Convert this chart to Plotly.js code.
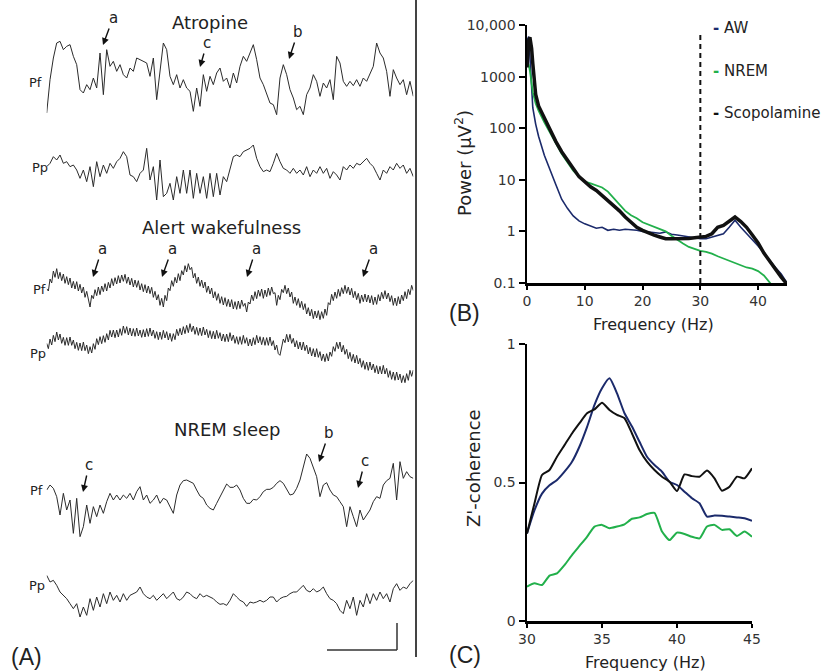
<!DOCTYPE html>
<html><head><meta charset="utf-8">
<script src="https://cdn.plot.ly/plotly-3.0.1.min.js"></script>
<style>html,body{margin:0;padding:0;background:#fff}#chart{width:827px;height:672px}</style>
</head><body><div id="chart"></div>
<script>
// ---------- Panel A: EEG traces (amplitude, arbitrary units) ----------
const atropinePf = [-105,-5,60,105,110,85,95,100,65,40, -35,-45,-20,-35,0,-30,75,-50,85,35, 50,20,40,10,0,30,20,60,55,50, 45,5,60,-65,25,105,85,5,-20,10, -30,-5,-30,-40,-100,-30,-85,10,-40,5, -20,15,30,-10,0,-30,15,-15,35,65, 50,75,100,55,0,-20,-45,-75,-80,-110, 0,40,10,-35,-60,-95,-85,-110,-50,-30, 10,-10,-55,-15,-30,-5,-65,65,45,-10, -25,-10,-23,-5,-25,0,-10,10,35,105, 75,60,20,-55,25,0,-20,-5,-50,-10, -55];
const atropinePp = [10,20,40,30,45,20,25,10,15,0, -25,0,-35,10,-50,25,-20,15,-10,20, 5,25,35,55,40,-15,-20,-35,-10,0, 65,-30,10,-90,30,-80,-70,-40,-90,-20, -70,0,-70,0,-85,-10,-70,-20,-85,-10, -80,-10,-75,-20,-35,5,40,45,40,55, 60,65,75,35,10,-5,0,-5,20,50, 25,5,0,-10,5,-10,0,-15,10,-20, 0,-10,10,-10,5,-25,-5,-15,-30,10, 0,15,5,20,15,25,35,20,10,-10, -30,0,-10,10,0,20,5,15,-10,5, -20];
const awakePf = [10,3,39,27,63,44,70,40,59,34, 54,26,46,22,42,12,32,9,31,3, 23,-3,15,-16,2,-25,-45,-10,-20,7, -11,15,-8,18,1,25,3,29,12,40, 19,43,24,49,27,51,32,53,26,45, 21,41,15,36,14,34,6,25,1,22, -3,18,-5,14,-16,2,-24,-8,-40,-19, -45,-10,-26,12,4,34,17,44,27,55, 34,64,51,79,60,85,67,74,42,56, 26,45,17,36,12,30,-1,18,-6,12, -18,1,-25,-5,-34,-14,-39,-17,-43,-22, -45,-23,-51,-29,-52,-27,-50,-24,-43,-34, -60,-30,-36,-9,-26,1,-20,6,-13,9, -19,6,-14,12,-10,15,-5,-2,-40,-10, -23,8,-2,20,-5,12,-15,0,-34,-15, -40,-20,-47,-28,-53,-35,-66,-47,-72,-52, -80,-57,-78,-56,-83,-59,-79,-51,-70,-32, -38,-7,-26,0,-19,8,-13,13,-5,20, -4,15,-9,11,-17,2,-23,-4,-34,-9, -29,-6,-30,-9,-33,-11,-38,-15,-37,-8, -27,-1,-20,4,-21,-3,-29,-11,-40,-18, -41,-14,-36,-9,-26,1,-20,8,-8,20, 4];
const awakePp = [11,-5,24,6,35,16,45,21,39,11, 29,5,28,5,30,5,21,-5,14,-10, 12,-11,15,-11,6,-20,1,-18,10,-7, 25,7,31,10,34,14,40,21,50,30, 51,28,51,30,55,35,63,41,61,36, 57,33,55,32,57,33,51,29,52,30, 55,32,57,33,51,26,46,22,45,23, 50,27,46,21,41,17,40,22,53,34, 56,36,61,40,65,43,70,46,63,38, 59,35,57,34,60,36,53,28,49,25, 47,24,50,26,43,18,39,16,39,16, 43,19,36,11,31,8,31,8,35,11, 28,3,24,3,28,7,35,12,31,7, 29,5,28,5,30,4,19,-9,6,-20, -25,6,24,13,38,15,38,11,26,0, 19,-6,15,-9,15,-11,6,-21,-1,-27, -5,-30,-5,-31,-14,-41,-21,-44,-20,-42, -15,-28,1,-13,14,-5,15,-15,5,-22, -7,-35,-16,-43,-22,-48,-25,-51,-34,-61, -41,-67,-45,-70,-45,-69,-51,-77,-56,-81, -58,-81,-55,-81,-64,-91,-71,-97,-75,-100, -75,-99,-81,-107,-86,-107,-80,-100,-70,-88, -69];
const nremPf = [30,45,35,10,-45,20,-30,0,-100,5, -110,-80,-15,-70,-20,-50,-15,-40,-5,20, 0,15,0,15,5,20,0,25,40,0, 15,-10,0,15,-10,5,0,-20,-40,15, 45,58,60,55,50,30,12,5,-15,-25, -30,-10,10,30,48,38,38,45,30,5, -10,-10,2,0,10,25,32,32,38,50, 58,50,32,15,18,35,60,100,138,125, 100,70,10,45,52,30,15,10,-5,-20, -80,-20,-50,-80,-30,-60,-45,-30,-5,10, 5,45,58,65,110,0,115,65,85,70, 65];
const nremPp = [65,45,50,35,15,5,-5,-20,-35,-20, -60,-30,-55,-5,-40,0,-30,10,-20,15, -10,5,-15,10,-10,5,10,15,30,10, 0,-5,5,-10,0,10,-5,5,15,-5, -10,0,15,10,0,-5,10,0,5,0, -5,-15,-22,-20,-25,-10,10,0,-10,-15, -28,-15,-18,-15,-10,-15,-10,0,0,-15, -5,0,2,10,15,15,25,35,20,15, 25,15,20,30,10,-5,-10,-20,-40,-50, -10,-35,0,-55,-10,-30,10,-20,10,-10, 15,-5,10,-15,25,40,20,30,25,40, 50];
const traceNamesA = ['Atropine Pf','Atropine Pp','Alert wakefulness Pf','Alert wakefulness Pp','NREM sleep Pf','NREM sleep Pp'];
const channelLabels = ['Pf','Pp','Pf','Pp','Pf','Pp'];
const stateTitles = ['Atropine','Alert wakefulness','NREM sleep'];

// ---------- Panel B: power spectra ----------
const freqB = [0,0.3,0.5,0.8,1,1.5,2,3,4,5,6,7,8,9,10,11,12,13,14,15,16,17,18,19,20,21,22,23,24,25,26,27,28,29,30,31,32,33,34,35,36,37,38,39,40,41,42,43,44,45];
const powerAW = [5000,6000,2500,500,250,120, 70,30,15,8,4.2,2.8,2,1.6,1.4, 1.25,1.15,1.2,1.05,1.1,1.05,1.1,1.08,1.05,1.0, 0.98,0.95,0.92,0.98,0.88,0.85,0.82,0.78,0.76,0.72, 0.72,0.78,0.82,0.9,1.2,1.65,1.2,0.92,0.7,0.52, 0.38,0.27,0.2,0.15,0.1];
const powerNREM = [2000,1700,1300,750,500,300, 220,130,80,50,32,22,15,11.5,9.2, 8.5,7.9,7.1,5.9,4.4,3.2,2.5,2.05,1.8,1.5, 1.35,1.2,1.1,1.0,0.82,0.68,0.58,0.5,0.45,0.42, 0.4,0.37,0.33,0.3,0.27,0.24,0.22,0.2,0.19,0.17, 0.14,0.1,0.075,null,null];
const powerScop = [1500,5000,5800,3500,1800,450, 270,160,91,55,35,24,16.6,11.5,9.2, 7.3,6.2,5,4,3.2,2.5,1.9,1.5,1.2,1.05, 0.93,0.85,0.78,0.72,0.72,0.72,0.73,0.73,0.75,0.78, 0.8,0.9,1.2,1.3,1.6,1.9,1.55,1.2,0.85,0.6, 0.38,0.26,0.18,0.13,0.095];
const powerTickVals = [0.1,1,10,100,1000,10000];
const powerTickText = ['0.1','1','10','100','1000','10,000'];
const legendNames = ['AW','NREM','Scopolamine'];

// ---------- Panel C: Z'-coherence ----------
const freqC = [30,30.5,31,31.5,32,32.5,33,33.5,34,34.5,35,35.5,36,36.5,37,37.5,38,38.5,39,39.5,40,40.5,41,41.5,42,42.5,43,43.5,44,44.5,45];
const cohScop = [0.316,0.425,0.527,0.545,0.593,0.635,0.677,0.714,0.75,0.764,0.788,0.762,0.744,0.732,0.677,0.617,0.575,0.545,0.521,0.503,0.469,0.529,0.523,0.521,0.543,0.515,0.47,0.485,0.521,0.515,0.551];
const cohAW = [0.316,0.4,0.46,0.49,0.509,0.539,0.575,0.63,0.7,0.78,0.84,0.876,0.822,0.75,0.702,0.647,0.593,0.563,0.539,0.503,0.491,0.467,0.443,0.425,0.377,0.381,0.38,0.377,0.374,0.371,0.362];
const cohNREM = [0.124,0.136,0.13,0.164,0.172,0.202,0.238,0.271,0.304,0.341,0.347,0.335,0.341,0.349,0.369,0.374,0.386,0.39,0.323,0.292,0.319,0.314,0.304,0.298,0.341,0.347,0.329,0.331,0.307,0.323,0.304];

// ---------- layout helpers ----------
const W = 827, H = 672;
const PX = x => x / W, PY = y => 1 - y / H;
const domX = (a, b) => [a / W, b / W];
const domY = (t, b) => [1 - b / H, 1 - t / H];
const FONT = 'DejaVu Sans, Verdana, sans-serif';
const NAVY = '#1b2a6b', GREEN = '#22b04b', BLACK = '#111111';

const seriesA = [atropinePf, atropinePp, awakePf, awakePp, nremPf, nremPp];
const stepA = [1, 1, 0.5, 0.5, 1, 1];
const rowCenters = [78, 170, 292, 347, 500, 597];
const labelPos = [[44,82],[50,167],[48,289],[48,353],[45,490],[47,585]];

const data = [];
const layout = {
  width: W, height: H, margin: {l:0, r:0, t:0, b:0},
  paper_bgcolor: '#fff', plot_bgcolor: 'rgba(0,0,0,0)', showlegend: false,
  font: {family: FONT, color: '#222'},
  xaxis: {domain: domX(46.7, 413.3), range: [0, 110], visible: false, anchor: 'y', fixedrange: true},
  annotations: [], shapes: []
};

seriesA.forEach((vals, i) => {
  const yname = i === 0 ? 'y' : 'y' + (i + 1);
  const key = i === 0 ? 'yaxis' : 'yaxis' + (i + 1);
  data.push({type: 'scatter', mode: 'lines', name: traceNamesA[i], y: vals, x0: 0, dx: stepA[i],
    xaxis: 'x', yaxis: yname, line: {color: '#2b2b2b', width: 1}, hoverinfo: 'skip'});
  layout[key] = {domain: domY(rowCenters[i] - 50, rowCenters[i] + 50), range: [-150, 150],
    visible: false, anchor: 'x', fixedrange: true};
  layout.annotations.push({xref: 'paper', yref: 'paper', x: PX(labelPos[i][0]), y: PY(labelPos[i][1]),
    xanchor: 'right', yanchor: 'middle', text: channelLabels[i], showarrow: false,
    font: {family: FONT, size: 13, color: '#222'}});
});

// state titles
[[210, 23], [221, 227], [227, 430]].forEach((p, i) => {
  layout.annotations.push({xref: 'paper', yref: 'paper', x: PX(p[0]), y: PY(p[1]), xanchor: 'center', yanchor: 'middle',
    text: stateTitles[i], showarrow: false, font: {family: FONT, size: 18, color: '#222'}});
});

// letter arrows: [letter, tipX, tipY, letterX, letterY]
const arrowsA = [
  ['a',103,45,113,18], ['c',200,67,207,43], ['b',289,59,298,32],
  ['a',93,277,102,249], ['a',162,277,172,249], ['a',247,277,256,249], ['a',363,277,373,249],
  ['c',83,492,89,465], ['b',319,462,329,433], ['c',358,488,365,461]
];
arrowsA.forEach(a => {
  layout.annotations.push({xref: 'paper', yref: 'paper', x: PX(a[1]), y: PY(a[2]),
    ax: a[3] - a[1], ay: a[4] - a[2], text: a[0], showarrow: true,
    arrowhead: 2, arrowsize: 1, arrowwidth: 1.4, arrowcolor: '#111', standoff: 0, startstandoff: 0,
    font: {family: FONT, size: 15, color: '#222'}});
});

// panel separator and scale bar
layout.shapes.push({type: 'line', xref: 'paper', yref: 'paper', x0: PX(416), x1: PX(416), y0: PY(0), y1: PY(657), line: {color: '#444', width: 2}});
layout.shapes.push({type: 'line', xref: 'paper', yref: 'paper', x0: PX(327), x1: PX(397), y0: PY(650), y1: PY(650), line: {color: '#333', width: 1.5}});
layout.shapes.push({type: 'line', xref: 'paper', yref: 'paper', x0: PX(397), x1: PX(397), y0: PY(623), y1: PY(650), line: {color: '#333', width: 1.5}});

// ---------- Panel B ----------
const axisCommon = {showline: true, linecolor: '#000', linewidth: 2.5, ticks: 'outside', tickcolor: '#000',
  tickwidth: 2, showgrid: false, zeroline: false, fixedrange: true,
  tickfont: {family: FONT, size: 14, color: '#333'}};
layout.xaxis2 = Object.assign({}, axisCommon, {domain: domX(527, 787), range: [0, 45], anchor: 'y7',
  tickvals: [0,10,20,30,40], ticklen: 4});
layout.yaxis7 = Object.assign({}, axisCommon, {domain: domY(25, 283), type: 'log', range: [-1, 4], anchor: 'x2',
  tickvals: powerTickVals, ticktext: powerTickText, ticklen: 6});
data.push({type: 'scatter', mode: 'lines', name: 'AW', x: freqB, y: powerAW, xaxis: 'x2', yaxis: 'y7', line: {color: NAVY, width: 1.6}});
data.push({type: 'scatter', mode: 'lines', name: 'NREM', x: freqB, y: powerNREM, xaxis: 'x2', yaxis: 'y7', line: {color: GREEN, width: 1.8}});
data.push({type: 'scatter', mode: 'lines', name: 'Scopolamine', x: freqB, y: powerScop, xaxis: 'x2', yaxis: 'y7', line: {color: BLACK, width: 3.5}});
layout.shapes.push({type: 'line', xref: 'x2', yref: 'y7 domain', x0: 30, x1: 30, y0: 0, y1: 0.975,
  line: {color: '#111', width: 2, dash: '5px,4px'}});
const legendCols = [NAVY, GREEN, BLACK];
[28, 71, 113].forEach((y, i) => {
  layout.annotations.push({xref: 'paper', yref: 'paper', x: PX(711), y: PY(y), xanchor: 'left', yanchor: 'middle',
    text: '<b style="color:' + legendCols[i] + '">-</b> ' + legendNames[i], showarrow: false,
    font: {family: FONT, size: 15, color: '#222'}});
});

// ---------- Panel C ----------
layout.xaxis3 = Object.assign({}, axisCommon, {domain: domX(527, 752), range: [30, 45], anchor: 'y8',
  tickvals: [30,35,40,45], ticklen: 4});
layout.yaxis8 = Object.assign({}, axisCommon, {domain: domY(344, 621), range: [0, 1], anchor: 'x3',
  tickvals: [0, 0.5, 1], ticktext: ['0','0.5','1'], ticklen: 6});
data.push({type: 'scatter', mode: 'lines', name: 'AW', x: freqC, y: cohAW, xaxis: 'x3', yaxis: 'y8', line: {color: NAVY, width: 2, shape: 'spline', smoothing: 0.5}});
data.push({type: 'scatter', mode: 'lines', name: 'NREM', x: freqC, y: cohNREM, xaxis: 'x3', yaxis: 'y8', line: {color: GREEN, width: 2, shape: 'spline', smoothing: 0.5}});
data.push({type: 'scatter', mode: 'lines', name: 'Scopolamine', x: freqC, y: cohScop, xaxis: 'x3', yaxis: 'y8', line: {color: BLACK, width: 2, shape: 'spline', smoothing: 0.5}});

// axis titles and panel labels
const txt = (x, y, text, size, extra) => Object.assign({xref: 'paper', yref: 'paper', x: PX(x), y: PY(y),
  xanchor: 'center', yanchor: 'middle', text: text, showarrow: false, font: {family: FONT, size: size, color: '#222'}}, extra || {});
layout.annotations.push(txt(463, 163, 'Power (μV<sup>2</sup>)', 18, {textangle: -90}));
layout.annotations.push(txt(653, 325, 'Frequency (Hz)', 16));
layout.annotations.push(txt(473, 468, "Z'-coherence", 18, {textangle: -90}));
layout.annotations.push(txt(645, 662, 'Frequency (Hz)', 16));
const LAB = 'Liberation Sans, Arial, sans-serif';
layout.annotations.push(txt(26, 657, '(A)', 23, {font: {family: LAB, size: 23, color: '#222'}}));
layout.annotations.push(txt(464, 313, '(B)', 23, {font: {family: LAB, size: 23, color: '#222'}}));
layout.annotations.push(txt(465, 655, '(C)', 23, {font: {family: LAB, size: 23, color: '#222'}}));

Plotly.newPlot('chart', data, layout, {staticPlot: true, displayModeBar: false});
</script></body></html>
